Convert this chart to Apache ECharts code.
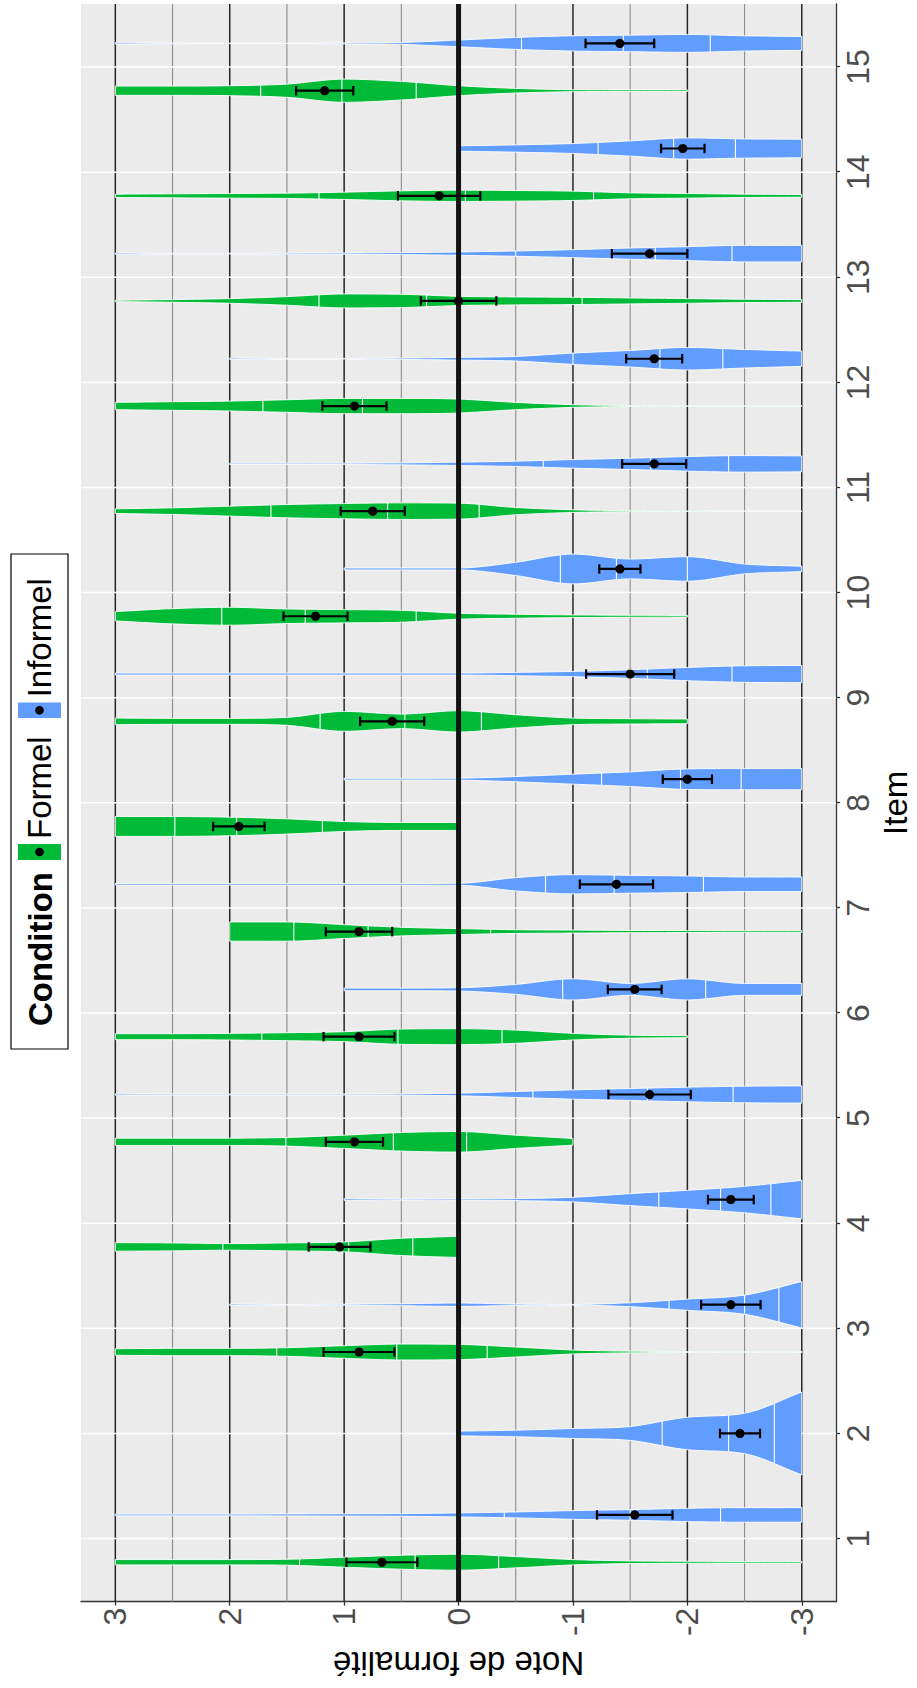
<!DOCTYPE html>
<html><head><meta charset="utf-8">
<script src="https://cdn.jsdelivr.net/npm/echarts@6/dist/echarts.min.js"></script>
<style>
html,body{margin:0;padding:0;background:#fff;}
#wrap{position:relative;width:917px;height:1688px;overflow:hidden;background:#fff;}
#chart{position:absolute;left:0;top:0;width:1688px;height:917px;transform-origin:0 0;transform:translate(0px,1688px) rotate(-90deg);}
</style></head><body>
<div id="wrap"><div id="chart"></div></div>
<script>
// ---------------- DATA ----------------
const itemLabels = ['1','2','3','4','5','6','7','8','9','10','11','12','13','14','15'];
const itemPos = [1,2,3,4,5,6,7,8,9,10,11,12,13,14,15];
const valueTicks = [-3,-2,-1,0,1,2,3];
const minorValueTicks = [-2.5,-1.5,-0.5,0.5,1.5,2.5];
const conditions = ['Formel','Informel'];
// density profile sampled at these scores (relative widths, null = outside observed range)
const densityGrid = [-3,-2.5,-2,-1.5,-1,-0.5,0,0.5,1,1.5,2,2.5,3];
const formelDensity = [
  [5,5,6,8,16,34,48,42,30,18,16,16,16],
  null,
  [3,3,3,5,12,30,46,48,38,26,22,22,20],
  [null,null,null,null,null,null,64,52,30,24,20,24,26],
  [null,null,null,null,20,40,62,56,40,26,22,22,22],
  [null,null,6,9,20,40,48,46,30,24,20,18,18],
  [5,5,6,7,9,11,18,26,42,58,58,null,null],
  [null,null,null,null,null,null,24,24,30,46,56,60,60],
  [null,null,14,16,20,40,64,44,60,24,18,18,20],
  [null,null,5,6,8,12,18,36,40,44,54,46,28],
  [1,1,2,3,8,22,48,50,46,40,30,20,14],
  [2,2,2,3,8,22,42,46,46,38,30,26,22],
  [8,10,14,18,22,24,28,40,42,26,14,8,4],
  [8,10,14,18,28,32,34,30,22,16,14,12,10],
  [null,null,5,5,6,14,30,56,70,40,30,28,28]
];
const informelDensity = [
  [44,44,40,32,26,18,12,8,7,6,5,5,5],
  [250,122,98,42,30,20,14,null,null,null,null,null,null],
  [140,58,34,12,2,4,10,6,3,2,4,null,null],
  [116,80,56,36,14,6,4,3,5,null,null,null,null],
  [52,50,44,36,28,18,8,4,3,3,3,3,4],
  [36,36,64,36,64,30,10,8,8,null,null,null,null],
  [44,44,50,54,58,40,6,5,5,5,5,5,5],
  [64,64,62,44,30,16,6,5,5,null,null,null,null],
  [52,50,40,26,16,10,6,6,6,6,6,6,6],
  [16,30,74,60,90,40,6,6,6,null,null,null,null],
  [48,50,44,34,26,16,10,6,4,4,4,null,null],
  [46,56,68,50,34,14,8,4,2,2,4,null,null],
  [50,50,42,34,24,16,10,6,4,3,2,2,4],
  [56,58,64,46,30,22,16,null,null,null,null,null,null],
  [42,46,54,50,46,36,20,6,3,1,1,2,4]
];
// quartiles [q25, q50, q75]
const formelQuartiles = [
  [-0.35,0.38,1.39], null, [-0.25,0.54,1.59], [0.4,0.96,2.06], [-0.07,0.57,1.51],
  [-0.38,0.53,1.72], [-0.28,0.79,1.44], [1.19,1.94,2.48], [-0.2,0.47,1.21], [0.37,1.34,2.07],
  [-0.18,0.62,1.64], [0.0,0.84,1.71], [-1.08,0.28,1.22], [-1.18,-0.06,1.22], [0.37,1.02,1.73]
];
const informelQuartiles = [
  [-2.29,-1.5,-0.4], [-2.76,-2.36,-1.78], [-2.8,-2.5,-1.84], [-2.73,-2.29,-1.75], [-2.4,-1.65,-0.65],
  [-2.16,-1.54,-0.91], [-2.14,-1.36,-0.76], [-2.47,-1.94,-1.25], [-2.39,-1.65,0.0], [-2.0,-1.38,-0.89],
  [-2.36,-1.68,-0.74], [-2.31,-1.76,-1.0], [-2.39,-1.72,-0.5], [-2.42,-1.88,-1.22], [-2.2,-1.44,-0.55]
];
const formelMean = [0.67,null,0.87,1.04,0.91,0.87,0.87,1.92,0.58,1.25,0.75,0.91,0.0,0.17,1.17];
const formelSE   = [0.31,null,0.31,0.27,0.25,0.31,0.29,0.225,0.28,0.28,0.28,0.28,0.33,0.36,0.25];
const informelMean = [-1.54,-2.46,-2.38,-2.38,-1.67,-1.54,-1.38,-2.0,-1.5,-1.41,-1.71,-1.71,-1.67,-1.96,-1.41];
const informelSE   = [0.33,0.175,0.26,0.2,0.36,0.235,0.32,0.215,0.385,0.18,0.28,0.245,0.33,0.19,0.30];

// ---------------- STYLE ----------------
const FONT = '"Liberation Sans", Arial, Helvetica, sans-serif';
const GREEN = '#00BA38', BLUE = '#619CFF';
const DODGE = 0.225;
const DENS_SCALE = 1/634;     // relative density -> half width in item units
const CAP = 0.045;

function monotone(pts, steps){
  const n = pts.length;
  if (n < 2) return pts.slice();
  const xs = pts.map(p=>p[0]), ys = pts.map(p=>p[1]);
  const d = [], m = new Array(n);
  for (let i=0;i<n-1;i++) d.push((ys[i+1]-ys[i])/(xs[i+1]-xs[i]));
  m[0]=d[0]; m[n-1]=d[n-2];
  for (let i=1;i<n-1;i++) m[i] = (d[i-1]*d[i] <= 0) ? 0 : (d[i-1]+d[i])/2;
  for (let i=0;i<n-1;i++){
    if (d[i]===0){ m[i]=0; m[i+1]=0; continue; }
    const a=m[i]/d[i], b=m[i+1]/d[i], s=a*a+b*b;
    if (s>9){ const t=3/Math.sqrt(s); m[i]=t*a*d[i]; m[i+1]=t*b*d[i]; }
  }
  const out=[];
  for (let i=0;i<n-1;i++){
    const h = xs[i+1]-xs[i];
    for (let s=0;s<steps;s++){
      const t=s/steps, t2=t*t, t3=t2*t;
      const y=(2*t3-3*t2+1)*ys[i]+(t3-2*t2+t)*h*m[i]+(-2*t3+3*t2)*ys[i+1]+(t3-t2)*h*m[i+1];
      out.push([xs[i]+t*h, Math.max(y,0)]);
    }
  }
  out.push([xs[n-1], ys[n-1]]);
  return out;
}
function widthAt(fine, q){
  for (let i=0;i<fine.length-1;i++){
    if (q>=fine[i][0] && q<=fine[i+1][0]){
      const t=(q-fine[i][0])/(fine[i+1][0]-fine[i][0]);
      return fine[i][1]+t*(fine[i+1][1]-fine[i][1]);
    }
  }
  return 0;
}
function centerOf(k, cond){
  const hasF = !!formelDensity[k-1], hasI = !!informelDensity[k-1];
  if (!(hasF && hasI)) return k;
  return cond===0 ? k-DODGE : k+DODGE;
}
function violinRenderer(dens, quart, cond, color){
  return function(params, api){
    const k = api.value(0);
    const prof = dens[k-1];
    if (!prof) return null;
    const cx = centerOf(k, cond);
    const pts=[];
    for (let j=0;j<densityGrid.length;j++) if (prof[j]!=null) pts.push([densityGrid[j], prof[j]*DENS_SCALE]);
    const fine = monotone(pts, 10);
    const left=[], right=[];
    fine.forEach(p=>{ left.push(api.coord([cx-p[1], p[0]])); right.push(api.coord([cx+p[1], p[0]])); });
    const poly = left.concat(right.reverse());
    const children=[{type:'polygon', shape:{points:poly}, style:{fill:color, stroke:'#fff', lineWidth:0.9}}];
    (quart[k-1]||[]).forEach(q=>{
      const w = widthAt(fine, q);
      const a = api.coord([cx-w, q]), b = api.coord([cx+w, q]);
      children.push({type:'line', shape:{x1:a[0],y1:a[1],x2:b[0],y2:b[1]}, style:{stroke:'#fff', lineWidth:1.1}});
    });
    return {type:'group', children};
  };
}
function errorRenderer(means, ses, cond){
  return function(params, api){
    const k = api.value(0);
    const m = means[k-1], se = ses[k-1];
    if (m==null) return null;
    const cx = centerOf(k, cond);
    const top = api.coord([cx, m+se]), bot = api.coord([cx, m-se]);
    const tl = api.coord([cx-CAP, m+se]), tr = api.coord([cx+CAP, m+se]);
    const bl = api.coord([cx-CAP, m-se]), br = api.coord([cx+CAP, m-se]);
    const c = api.coord([cx, m]);
    const st = {stroke:'#000', lineWidth:2.2};
    return {type:'group', children:[
      {type:'line', shape:{x1:top[0],y1:top[1],x2:bot[0],y2:bot[1]}, style:st},
      {type:'line', shape:{x1:tl[0],y1:tl[1],x2:tr[0],y2:tr[1]}, style:st},
      {type:'line', shape:{x1:bl[0],y1:bl[1],x2:br[0],y2:br[1]}, style:st},
      {type:'circle', shape:{cx:c[0],cy:c[1],r:4.6}, style:{fill:'#000'}}
    ]};
  };
}
function gridRenderer(params, api){
  const ch=[];
  minorValueTicks.forEach(v=>{
    const a=api.coord([0.4,v]), b=api.coord([15.6,v]);
    ch.push({type:'line', shape:{x1:a[0],y1:a[1],x2:b[0],y2:b[1]}, style:{stroke:'#8c8c8c', lineWidth:1.1}});
  });
  valueTicks.forEach(v=>{
    const a=api.coord([0.4,v]), b=api.coord([15.6,v]);
    ch.push({type:'line', shape:{x1:a[0],y1:a[1],x2:b[0],y2:b[1]}, style:{stroke:'#262626', lineWidth:1.5}});
  });
  itemPos.forEach(k=>{
    const a=api.coord([k,-3.3]), b=api.coord([k,3.3]);
    ch.push({type:'line', shape:{x1:a[0],y1:a[1],x2:b[0],y2:b[1]}, style:{stroke:'#ffffff', lineWidth:1.5}});
  });
  return {type:'group', children:ch};
}
function zeroRenderer(params, api){
  const a=api.coord([0.4,0]), b=api.coord([15.6,0]);
  return {type:'line', shape:{x1:a[0],y1:a[1],x2:b[0],y2:b[1]}, style:{stroke:'#141414', lineWidth:5}};
}
function keyIcon(color){
  const svg = "<svg xmlns='http://www.w3.org/2000/svg' width='16' height='43' viewBox='0 0 16 43'><rect x='0' y='0' width='16' height='43' fill='"+color+"'/><circle cx='8' cy='21.5' r='4.3' fill='#000'/></svg>";
  return 'image://data:image/svg+xml;charset=utf-8,' + encodeURIComponent(svg);
}
const fData = itemPos.filter(k=>formelDensity[k-1]).map(k=>[k, formelMean[k-1]]);
const iData = itemPos.filter(k=>informelDensity[k-1]).map(k=>[k, informelMean[k-1]]);

const chart = echarts.init(document.getElementById('chart'), null, {renderer:'svg', width:1688, height:917});
chart.setOption({
  animation:false,
  backgroundColor:'#fff',
  textStyle:{fontFamily:FONT},
  grid:{left:78, right:4, top:81, bottom:71, show:true, backgroundColor:'#EBEBEB', borderWidth:0, containLabel:false},
  xAxis:{
    type:'value', min:0.4, max:15.6,
    splitLine:{show:false},
    axisLine:{show:true, onZero:false, lineStyle:{color:'#333', width:1.3}},
    axisTick:{show:true, length:4, customValues:itemPos, lineStyle:{color:'#333', width:1.3}},
    axisLabel:{customValues:itemPos, formatter:v=>itemLabels[Math.round(v)-1], fontSize:32, color:'#4D4D4D', margin:6, fontFamily:FONT},
    name:'Item', nameLocation:'middle', nameGap:40, nameTextStyle:{fontSize:33, color:'#000', fontFamily:FONT}
  },
  yAxis:{
    type:'value', min:-3.3, max:3.3,
    splitLine:{show:false},
    axisLine:{show:true, onZero:false, lineStyle:{color:'#333', width:1.3}},
    axisTick:{show:true, length:4, customValues:valueTicks, lineStyle:{color:'#333', width:1.3}},
    axisLabel:{customValues:valueTicks, fontSize:32, color:'#4D4D4D', margin:6, fontFamily:FONT},
    name:'Note de formalité', nameLocation:'middle', nameRotate:90, nameGap:38,
    nameTextStyle:{fontSize:33, color:'#000', fontFamily:FONT}
  },
  legend:{
    left:828, top:18, padding:0, itemWidth:16, itemHeight:43, itemGap:18, selectedMode:false,
    textStyle:{fontSize:33, color:'#000', fontFamily:FONT},
    data:[{name:'Formel', icon:keyIcon(GREEN)}, {name:'Informel', icon:keyIcon(BLUE)}]
  },
  graphic:[
    {type:'rect', z:0, silent:true, shape:{x:639, y:11, width:495, height:57}, style:{fill:'#fff', stroke:'#000', lineWidth:1.2}},
    {type:'text', z:10, silent:true, x:662, y:40, style:{text:'Condition', font:'bold 33px '+FONT, fill:'#000', verticalAlign:'middle', align:'left'}}
  ],
  series:[
    {type:'custom', name:'grille', silent:true, z:1, renderItem:gridRenderer, data:[[1,0]], encode:{x:0,y:1}},
    {type:'custom', name:'Formel', z:2, itemStyle:{color:GREEN}, renderItem:violinRenderer(formelDensity, formelQuartiles, 0, GREEN), data:fData, encode:{x:0,y:1}},
    {type:'custom', name:'Informel', z:2, itemStyle:{color:BLUE}, renderItem:violinRenderer(informelDensity, informelQuartiles, 1, BLUE), data:iData, encode:{x:0,y:1}},
    {type:'custom', name:'zéro', silent:true, z:3, renderItem:zeroRenderer, data:[[1,0]], encode:{x:0,y:1}},
    {type:'custom', name:'Formel moyenne', z:4, renderItem:errorRenderer(formelMean, formelSE, 0), data:fData, encode:{x:0,y:1}},
    {type:'custom', name:'Informel moyenne', z:4, renderItem:errorRenderer(informelMean, informelSE, 1), data:iData, encode:{x:0,y:1}}
  ]
});
</script>
</body></html>
